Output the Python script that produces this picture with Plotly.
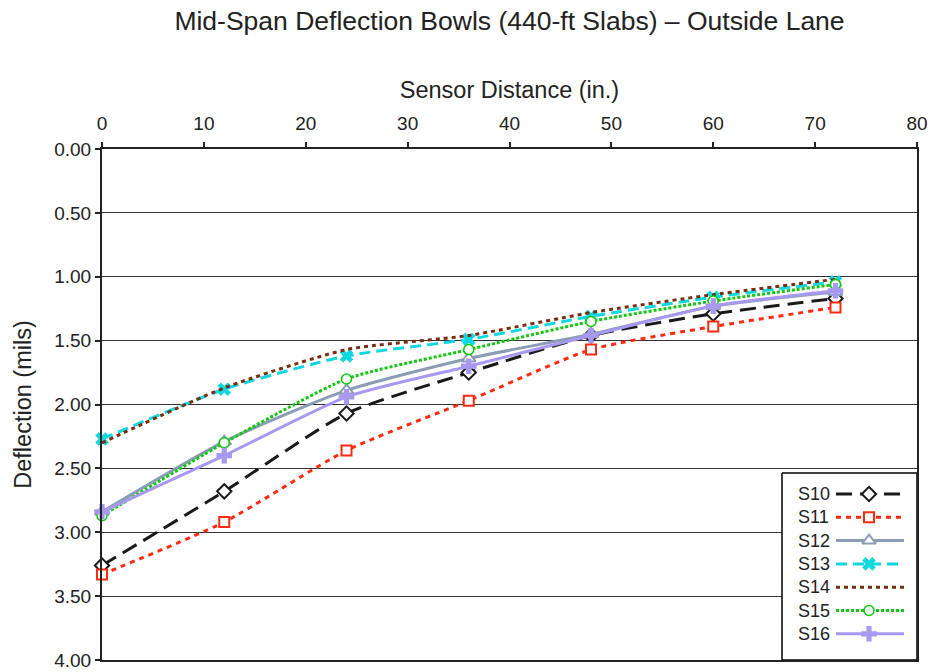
import plotly.graph_objects as go

# ---- data ----
sensor_in = [0, 12, 24, 36, 48, 60, 72]
series_names = ["S10", "S11", "S12", "S13", "S14", "S15", "S16"]
S10 = [3.26, 2.68, 2.07, 1.75, 1.46, 1.29, 1.17]
S11 = [3.33, 2.92, 2.36, 1.97, 1.57, 1.39, 1.24]
S12 = [2.84, 2.29, 1.89, 1.64, 1.45, 1.23, 1.12]
S13 = [2.27, 1.88, 1.62, 1.49, 1.31, 1.16, 1.04]
S14 = [2.30, 1.87, 1.57, 1.46, 1.28, 1.14, 1.02]
S15 = [2.87, 2.30, 1.80, 1.57, 1.35, 1.19, 1.06]
S16 = [2.84, 2.40, 1.94, 1.70, 1.46, 1.23, 1.11]
values = [S10, S11, S12, S13, S14, S15, S16]
x_ticks = [0, 10, 20, 30, 40, 50, 60, 70, 80]
y_ticks = [0.0, 0.5, 1.0, 1.5, 2.0, 2.5, 3.0, 3.5, 4.0]

# ---- styles ----  (fill: 'white' for hollow markers with white interior)
styles = [
    dict(color="#1a1a1a", dash="16px,8px", symbol="diamond", msize=11, mline=2, fill="white"),
    dict(color="#ff2a10", dash="5px,5px", symbol="square", msize=10, mline=2, fill="white"),
    dict(color="#8a9db5", dash="solid", symbol="triangle-up", msize=12, mline=2, fill="white"),
    dict(color="#10d8e0", dash="11px,6px", symbol="x", msize=12, mline=0, fill=None),
    dict(color="#7a2e10", dash="4px,4px", symbol=None, msize=0, mline=0, fill=None),
    dict(color="#10c810", dash="3px,2px", symbol="circle", msize=10, mline=1.5, fill="white"),
    dict(color="#a898f0", dash="solid", symbol="cross", msize=13, mline=0, fill=None),
]

FONT = "Liberation Sans, Arial, sans-serif"
TXT = "#222"
L, R, T, B = 102, 917, 149, 660
W, H = 940, 672


def marker_for(st):
    return dict(symbol=st["symbol"] or "circle", size=st["msize"],
                color=st["fill"] or st["color"],
                line=dict(color=st["color"], width=st["mline"]))


fig = go.Figure()
for name, vals, st in zip(series_names, values, styles):
    fig.add_trace(go.Scatter(
        x=sensor_in, y=vals, name=name,
        mode="lines+markers" if st["symbol"] else "lines",
        line=dict(color=st["color"], width=3, dash=st["dash"], shape="spline", smoothing=0.6),
        marker=marker_for(st),
        showlegend=False, cliponaxis=False,
    ))

# ---- custom legend (text left of sample, as in reference), drawn on an overlay pixel axis ----
box_x0, box_x1, box_y0, box_y1 = 782, 917, 473, 660
row_y0, row_dy = 494, 23.3
fig.add_trace(go.Scatter(
    x=[box_x0, box_x1, box_x1, box_x0, box_x0], y=[box_y0, box_y0, box_y1, box_y1, box_y0],
    xaxis="x2", yaxis="y2", mode="lines", fill="toself", fillcolor="white",
    line=dict(color="black", width=1.5), showlegend=False, hoverinfo="skip", cliponaxis=False))
for i, (name, st) in enumerate(zip(series_names, styles)):
    yy = row_y0 + i * row_dy
    fig.add_trace(go.Scatter(
        x=[836, 869, 904], y=[yy, yy, yy], xaxis="x2", yaxis="y2",
        mode="lines", line=dict(color=st["color"], width=3, dash=st["dash"]),
        showlegend=False, hoverinfo="skip"))
    if st["symbol"]:
        fig.add_trace(go.Scatter(
            x=[869], y=[yy], xaxis="x2", yaxis="y2", mode="markers",
            marker=marker_for(st), showlegend=False, hoverinfo="skip"))
    fig.add_annotation(x=796, y=yy, xref="x2", yref="y2", text=name, showarrow=False,
                       xanchor="left", yanchor="middle", font=dict(family=FONT, size=18, color=TXT))

fig.update_layout(
    width=W, height=H,
    margin=dict(l=L, r=W - R, t=T, b=H - B, pad=0, autoexpand=False),
    paper_bgcolor="white", plot_bgcolor="white",
    font=dict(family=FONT, color=TXT),
    title=dict(text="Mid-Span Deflection Bowls (440-ft Slabs) – Outside Lane",
               x=(L + R) / 2 / W, xanchor="center", y=1 - 21 / H, yanchor="middle",
               font=dict(size=26.5, family=FONT, color=TXT)),
    xaxis=dict(side="top", range=[0, 80], tickvals=x_ticks, ticktext=[str(v) for v in x_ticks],
               showgrid=False, zeroline=False, automargin=False,
               showline=True, linecolor=TXT, linewidth=2, mirror=True,
               ticks="outside", ticklen=5, tickwidth=2, tickcolor=TXT, ticklabelstandoff=4,
               tickfont=dict(size=19, family=FONT, color=TXT),
               title=dict(text="Sensor Distance (in.)", font=dict(size=23.5, family=FONT, color=TXT), standoff=8)),
    yaxis=dict(range=[4, 0], tickvals=y_ticks, ticktext=[f"{v:.2f}" for v in y_ticks],
               showgrid=True, gridcolor="#333", gridwidth=1, zeroline=False, automargin=False,
               showline=True, linecolor=TXT, linewidth=2, mirror=True,
               ticks="outside", ticklen=5, tickwidth=2, tickcolor=TXT,
               tickfont=dict(size=19, family=FONT, color=TXT),
               title=dict(text="Deflection (mils)", font=dict(size=23.5, family=FONT, color=TXT), standoff=16)),
    xaxis2=dict(overlaying="x", range=[L, R], visible=False, domain=[0, 1], anchor="y2", automargin=False),
    yaxis2=dict(overlaying="y", range=[B, T], visible=False, domain=[0, 1], anchor="x2", automargin=False),
)

fig.write_html("out.html")
